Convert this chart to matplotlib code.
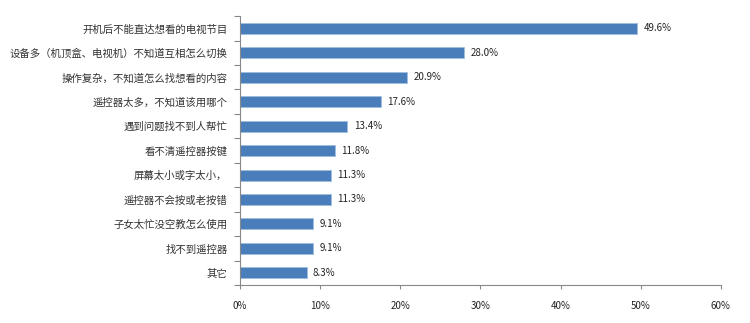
import matplotlib
matplotlib.use("Agg")
import matplotlib.pyplot as plt
import numpy as np

plt.rcParams['font.family'] = ['Noto Sans CJK SC', 'DejaVu Sans']

# Survey answers, top to bottom
categories = [
    "开机后不能直达想看的电视节目",
    "设备多（机顶盒、电视机）不知道互相怎么切换",
    "操作复杂，不知道怎么找想看的内容",
    "遥控器太多，不知道该用哪个",
    "遇到问题找不到人帮忙",
    "看不清遥控器按键",
    "屏幕太小或字太小，",
    "遥控器不会按或老按错",
    "子女太忙没空教怎么使用",
    "找不到遥控器",
    "其它",
]
shares = [49.6, 28.0, 20.9, 17.6, 13.4, 11.8, 11.3, 11.3, 9.1, 9.1, 8.3]
x_ticks = [0, 10, 20, 30, 40, 50, 60]

fig = plt.figure(figsize=(7.5, 3.23), dpi=100)
ax = fig.add_axes([0.32, 0.1176, 0.641, 0.8324])

n = len(categories)
y = np.arange(n)[::-1]
ax.barh(y, shares, height=0.45, color="#4a7ebb", edgecolor="#9fbde0", linewidth=0.6)

for yi, v in zip(y, shares):
    ax.text(v + 0.8, yi, f"{v:.1f}%", va="center", ha="left", fontsize=7, color="#222222")

ax.set_xlim(0, 60)
ax.set_ylim(-0.5, n - 0.5)
ax.set_xticks(x_ticks)
ax.set_xticklabels([f"{t}%" for t in x_ticks], fontsize=7, color="#222222")
ax.tick_params(axis="x", length=3, color="#888888", pad=8.5)

# category ticks sit between bars, labels centred on bars
ax.set_yticks(np.arange(-0.5, n, 1.0))
ax.set_yticklabels([])
ax.set_yticks(y, minor=True)
ax.set_yticklabels(categories, minor=True, fontsize=7.5, color="#333333")
ax.tick_params(axis="y", which="major", length=4, color="#888888")
ax.tick_params(axis="y", which="minor", length=0, pad=9)

for side in ["top", "right"]:
    ax.spines[side].set_visible(False)
for side in ["left", "bottom"]:
    ax.spines[side].set_color("#888888")
    ax.spines[side].set_linewidth(0.8)

fig.savefig("out.png", dpi=100)
